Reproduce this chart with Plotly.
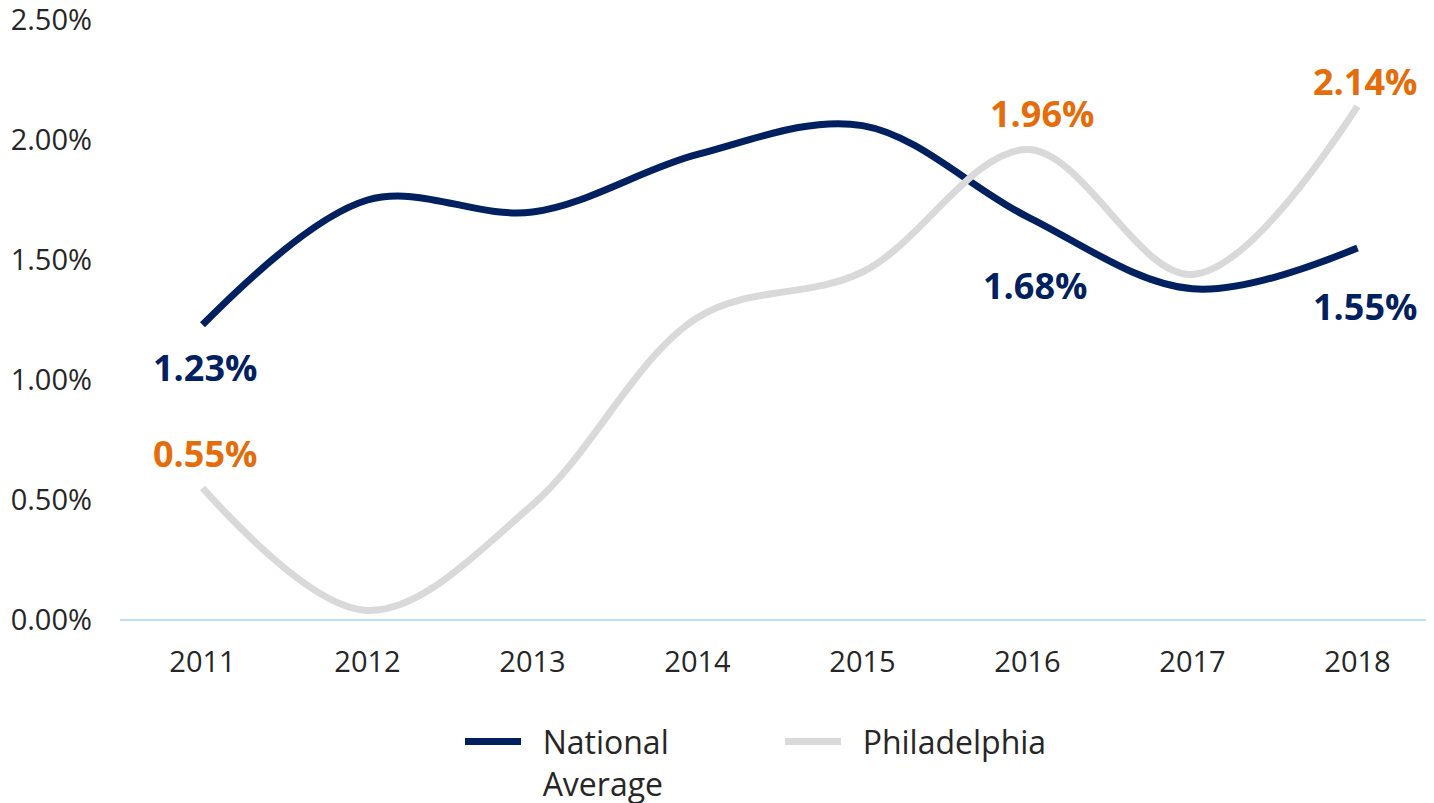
import plotly.graph_objects as go

years = [2011, 2012, 2013, 2014, 2015, 2016, 2017, 2018]
national = [1.23, 1.75, 1.70, 1.94, 2.06, 1.68, 1.38, 1.55]
philadelphia = [0.55, 0.04, 0.48, 1.26, 1.45, 1.96, 1.44, 2.14]
series_names = ["National<br>Average", "Philadelphia"]
label_years = [2011, 2016, 2018]
y_ticks = [0, 0.5, 1.0, 1.5, 2.0, 2.5]

NAVY = "#002060"
GRAY = "#D9D9D9"
ORANGE = "#E46C0A"
FONT = "Open Sans"
PAD = "\u00a0\u00a0"


def legend_text(name):
    return "<br>".join(PAD + part for part in name.split("<br>"))


fig = go.Figure()
fig.add_trace(go.Scatter(x=years, y=national, name=legend_text(series_names[0]), mode="lines",
                         line=dict(color=NAVY, width=7, shape="spline", smoothing=1.0)))
fig.add_trace(go.Scatter(x=years, y=philadelphia, name=legend_text(series_names[1]), mode="lines",
                         line=dict(color=GRAY, width=7, shape="spline", smoothing=1.0)))

nat_shift = {2011: (2, -43), 2016: (7, -69), 2018: (7, -58)}
phl_shift = {2011: (2, 35), 2016: (14, 36), 2018: (7, 25)}
for yr in label_years:
    i = years.index(yr)
    dx, dy = nat_shift[yr]
    fig.add_annotation(x=yr, y=national[i], text=f"{national[i]:.2f}%", showarrow=False,
                       xshift=dx, yshift=dy, font=dict(family=FONT, size=36, color=NAVY, weight="bold"))
    dx, dy = phl_shift[yr]
    fig.add_annotation(x=yr, y=philadelphia[i], text=f"{philadelphia[i]:.2f}%", showarrow=False,
                       xshift=dx, yshift=dy, font=dict(family=FONT, size=36, color=ORANGE, weight="bold"))

fig.update_layout(
    width=1434, height=803,
    margin=dict(l=112, r=2, t=12, b=191, autoexpand=False),
    paper_bgcolor="white", plot_bgcolor="white",
    font=dict(family=FONT, color="#262626"),
    showlegend=True,
    legend=dict(orientation="h", x=0.5, xanchor="center", y=-0.157, yanchor="top",
                font=dict(family=FONT, size=32, color="#262626"), valign="top",
                itemwidth=56, entrywidth=249, entrywidthmode="pixels"),
    xaxis=dict(range=[2010.5, 2018.5], tickvals=years, ticktext=[str(y) for y in years],
               showgrid=False, zeroline=False, showline=False,
               tickfont=dict(family=FONT, size=29, color="#262626"), ticklabelstandoff=22),
    yaxis=dict(range=[0, 2.5], tickvals=y_ticks, ticktext=[f"{v:.2f}%" for v in y_ticks],
               showgrid=False, zeroline=True, zerolinecolor="#BDDDFB", zerolinewidth=2,
               showline=False, tickfont=dict(family=FONT, size=29, color="#262626"),
               ticklabelstandoff=27, ticklabeloverflow="allow"),
)
fig.write_html("out.html")
